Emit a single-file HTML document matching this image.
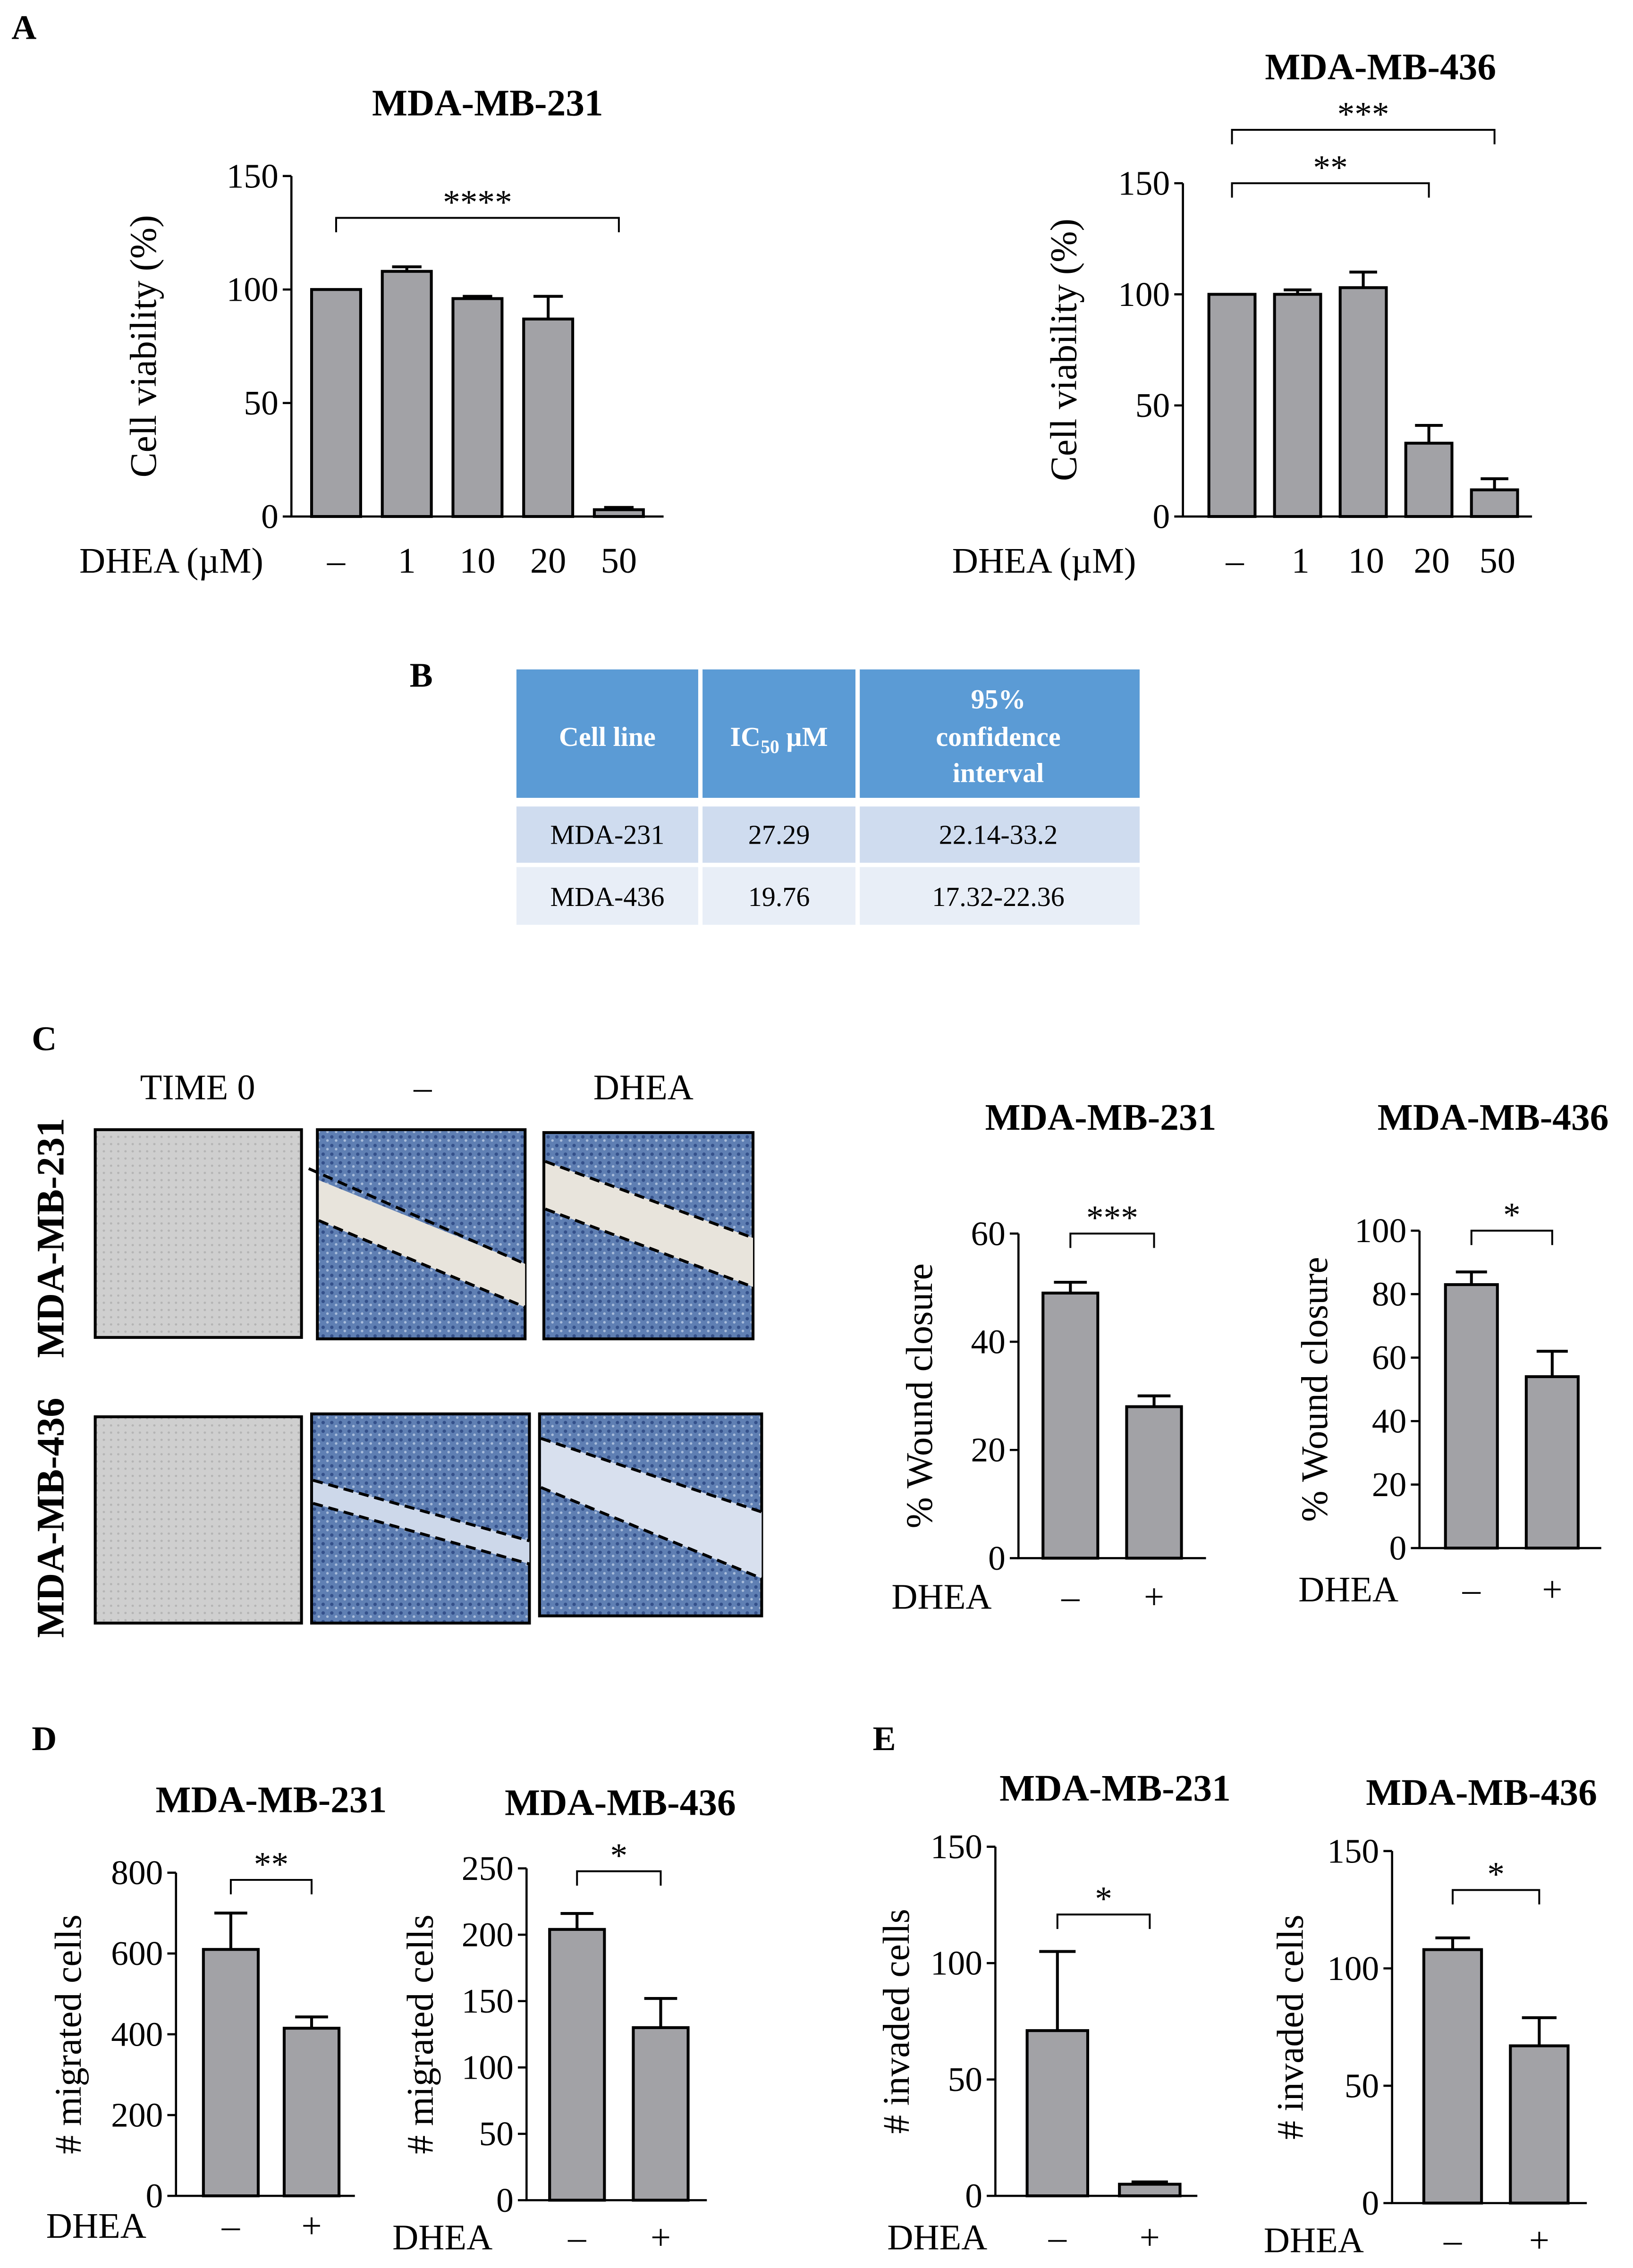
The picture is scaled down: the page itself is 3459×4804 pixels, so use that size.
<!DOCTYPE html>
<html><head><meta charset="utf-8"><style>
html,body{margin:0;padding:0;background:#fff}
svg{display:block}
text{font-family:"Liberation Serif",serif;fill:#000}
</style></head><body>
<svg id="fig" width="3459" height="4804" viewBox="0 0 1132 1572" preserveAspectRatio="none" xmlns="http://www.w3.org/2000/svg">
<defs>
<pattern id="cells" width="6" height="6" patternUnits="userSpaceOnUse"><rect width="6" height="6" fill="#5f7fb3"/><circle cx="2" cy="2" r="1.2" fill="#34508a"/><circle cx="5" cy="4.5" r="0.9" fill="#a9bddb"/></pattern>
<pattern id="gray" width="5" height="5" patternUnits="userSpaceOnUse"><rect width="5" height="5" fill="#cfcfcf"/><circle cx="2" cy="3" r="0.8" fill="#b4b4b4"/></pattern>
</defs>
<g id="static">
<text x="8" y="27" font-size="24" font-weight="bold">A</text>
<text x="284" y="476" font-size="24" font-weight="bold">B</text>
<text x="22" y="728" font-size="24" font-weight="bold">C</text>
<text x="22" y="1213" font-size="24" font-weight="bold">D</text>
<text x="605" y="1213" font-size="24" font-weight="bold">E</text>

<g font-size="19">
<rect x="358" y="464" width="432" height="89" fill="#5b9bd5"/>
<rect x="358" y="559" width="432" height="39" fill="#cfdcef"/>
<rect x="358" y="601" width="432" height="40" fill="#e8eef7"/>
<line x1="485.5" y1="464" x2="485.5" y2="641" stroke="#fff" stroke-width="3"/>
<line x1="594.5" y1="464" x2="594.5" y2="641" stroke="#fff" stroke-width="3"/>
<text x="421" y="517" text-anchor="middle" font-weight="bold" style="fill:#fff">Cell line</text>
<text x="540" y="517" text-anchor="middle" font-weight="bold" style="fill:#fff">IC<tspan font-size="13" dy="5">50</tspan><tspan dy="-5"> µM</tspan></text>
<text x="692" y="491" text-anchor="middle" font-weight="bold" style="fill:#fff">95%</text>
<text x="692" y="517" text-anchor="middle" font-weight="bold" style="fill:#fff">confidence</text>
<text x="692" y="542" text-anchor="middle" font-weight="bold" style="fill:#fff">interval</text>
<text x="421" y="585" text-anchor="middle">MDA-231</text>
<text x="540" y="585" text-anchor="middle">27.29</text>
<text x="692" y="585" text-anchor="middle">22.14-33.2</text>
<text x="421" y="628" text-anchor="middle">MDA-436</text>
<text x="540" y="628" text-anchor="middle">19.76</text>
<text x="692" y="628" text-anchor="middle">17.32-22.36</text>
</g>

<g font-size="25">
<text x="137" y="762" text-anchor="middle">TIME 0</text>
<text x="293" y="762" text-anchor="middle">–</text>
<text x="446" y="762" text-anchor="middle">DHEA</text>
<text transform="translate(44,858) rotate(-90)" text-anchor="middle" font-size="27" font-weight="bold">MDA-MB-231</text>
<text transform="translate(44,1052) rotate(-90)" text-anchor="middle" font-size="27" font-weight="bold">MDA-MB-436</text>
<rect x="66" y="783" width="143" height="144" fill="url(#gray)" stroke="#000" stroke-width="2"/>
<rect x="66" y="982" width="143" height="143" fill="url(#gray)" stroke="#000" stroke-width="2"/>
<rect x="220" y="783" width="144" height="145" fill="url(#cells)" stroke="#000" stroke-width="2"/>
<polygon points="221,818 364,876 364,906 221,846" fill="#e8e4dc"/>
<line x1="214" y1="810" x2="364" y2="876" stroke="#000" stroke-width="2" stroke-dasharray="7,4"/>
<line x1="221" y1="846" x2="364" y2="906" stroke="#000" stroke-width="2" stroke-dasharray="7,4"/>
<rect x="377" y="785" width="145" height="143" fill="url(#cells)" stroke="#000" stroke-width="2"/>
<polygon points="378,805 522,858 522,892 378,838" fill="#e8e4dc"/>
<line x1="378" y1="805" x2="522" y2="858" stroke="#000" stroke-width="2" stroke-dasharray="7,4"/>
<line x1="378" y1="838" x2="522" y2="892" stroke="#000" stroke-width="2" stroke-dasharray="7,4"/>
<rect x="216" y="980" width="151" height="145" fill="url(#cells)" stroke="#000" stroke-width="2"/>
<polygon points="217,1026 367,1068 367,1084 217,1042" fill="#cdd8ea"/>
<line x1="217" y1="1026" x2="367" y2="1068" stroke="#000" stroke-width="2" stroke-dasharray="7,4"/>
<line x1="217" y1="1042" x2="367" y2="1084" stroke="#000" stroke-width="2" stroke-dasharray="7,4"/>
<rect x="374" y="980" width="154" height="140" fill="url(#cells)" stroke="#000" stroke-width="2"/>
<polygon points="375,997 528,1048 528,1094 375,1031" fill="#d8e0ee"/>
<line x1="375" y1="997" x2="528" y2="1048" stroke="#000" stroke-width="2" stroke-dasharray="7,4"/>
<line x1="375" y1="1031" x2="528" y2="1094" stroke="#000" stroke-width="2" stroke-dasharray="7,4"/>
</g>
</g>
<g id="charts"></g>
</svg>
<script>
// Panel A left: MDA-MB-231 viability
const aLeftCategories = ["–","1","10","20","50"];
const aLeftValues = [100,108,96,87,3];
const aLeftErrors = [0,2,1,10,1];
const aLeftTicks = [0,50,100,150];
// Panel A right: MDA-MB-436 viability
const aRightCategories = ["–","1","10","20","50"];
const aRightValues = [100,100,103,33,12];
const aRightErrors = [0,2,7,8,5];
const aRightTicks = [0,50,100,150];
// Panel C wound closure
const cLeftCategories = ["–","+"];
const cLeftValues = [49,28];
const cLeftErrors = [2,2];
const cLeftTicks = [0,20,40,60];
const cRightCategories = ["–","+"];
const cRightValues = [83,54];
const cRightErrors = [4,8];
const cRightTicks = [0,20,40,60,80,100];
// Panel D migration
const dLeftCategories = ["–","+"];
const dLeftValues = [610,415];
const dLeftErrors = [90,28];
const dLeftTicks = [0,200,400,600,800];
const dRightCategories = ["–","+"];
const dRightValues = [204,130];
const dRightErrors = [12,22];
const dRightTicks = [0,50,100,150,200,250];
// Panel E invasion
const eLeftCategories = ["–","+"];
const eLeftValues = [71,5];
const eLeftErrors = [34,1];
const eLeftTicks = [0,50,100,150];
const eRightCategories = ["–","+"];
const eRightValues = [108,67];
const eRightErrors = [5,12];
const eRightTicks = [0,50,100,150];

const NS="http://www.w3.org/2000/svg";
const root=document.getElementById('charts');
function mk(tag,attrs,parent){const e=document.createElementNS(NS,tag);for(const k in attrs)e.setAttribute(k,attrs[k]);parent.appendChild(e);return e;}
function txt(x,y,s,size,anchor,parent,extra){const t=mk('text',Object.assign({x:x,y:y,'font-size':size,'text-anchor':anchor},extra||{}),parent);t.textContent=s;return t;}

function chart(cfg){
  const g=mk('g',{},root);
  
  
  const max=cfg.ticks[cfg.ticks.length-1];
  const yScale=v=>cfg.y0-(v/max)*(cfg.y0-cfg.yTop);
  const xScale=i=>cfg.x0+cfg.pad+cfg.step*i;
  // axes
  const ax=mk('path',{d:`M${cfg.x0},${cfg.yTop} V${cfg.y0} H${cfg.xEnd}`,fill:'none',stroke:'#000','stroke-width':1.5},g);
  
  
  cfg.ticks.forEach(t=>{
    const y=yScale(t);
    mk('line',{x1:cfg.x0-6,y1:y,x2:cfg.x0,y2:y,stroke:'#000','stroke-width':1.5},g);
    const tl=txt(cfg.x0-9,y+8,String(t),24,'end',g);
    
    
  });
  cfg.values.forEach((v,i)=>{
    const cx=xScale(i), y=yScale(v), e=yScale(v+cfg.errors[i]);
    if(cfg.errors[i]>0){
      const el=mk('path',{d:`M${cx},${y} V${e} M${cx-cfg.bw*0.3},${e} H${cx+cfg.bw*0.3}`,stroke:'#000','stroke-width':2,fill:'none'},g);
      
      
    }
    const b=mk('rect',{x:cx-cfg.bw/2,y:y,width:cfg.bw,height:cfg.y0-y,fill:'#a2a2a6',stroke:'#000','stroke-width':2},g);
    
    
    const cl=txt(cx+(cfg.catDx||0),cfg.catY,cfg.cats[i],25,'middle',g);
    
    
  });
  const dl=txt(cfg.dheaX,cfg.catY,cfg.dhea,25,'start',g);
  
  
  const tt=txt(cfg.titleX,cfg.titleY,cfg.title,26,'middle',g,{'font-weight':'bold'});
  
  
  const yl=txt(0,0,cfg.ylabel,26,'middle',g,{transform:`translate(${cfg.ylX},${(cfg.y0+cfg.yTop)/2}) rotate(-90)`});
  
  
  cfg.brackets.forEach(br=>{
    const x1=xScale(br[0]), x2=xScale(br[1]), y=br[2];
    const p=mk('path',{d:`M${x1},${y+10} V${y} H${x2} V${y+10}`,fill:'none',stroke:'#000','stroke-width':1.3},g);
    
    
    const s=txt((x1+x2)/2,y-3,br[3],24,'middle',g);
    
    
  });
}

chart({name:'chart-a-mda231',cats:aLeftCategories,values:aLeftValues,errors:aLeftErrors,ticks:aLeftTicks,
  x0:202,xEnd:460,y0:358,yTop:122,pad:31,step:49,bw:34,catY:397,catDx:0,dheaX:55,dhea:'DHEA (µM)',
  title:'MDA-MB-231',titleX:338,titleY:80,ylabel:'Cell viability (%)',ylX:108,brackets:[[0,4,151,'****']]});
chart({name:'chart-a-mda436',cats:aRightCategories,values:aRightValues,errors:aRightErrors,ticks:aRightTicks,
  x0:820,xEnd:1062,y0:358,yTop:127,pad:34,step:45.5,bw:32,catY:397,catDx:2,dheaX:660,dhea:'DHEA (µM)',
  title:'MDA-MB-436',titleX:957,titleY:55,ylabel:'Cell viability (%)',ylX:746,brackets:[[0,3,127,'**'],[0,4,90,'***']]});
chart({name:'chart-c-mda231',cats:cLeftCategories,values:cLeftValues,errors:cLeftErrors,ticks:cLeftTicks,
  x0:706,xEnd:836,y0:1080,yTop:855,pad:36,step:58,bw:38,catY:1115,dheaX:618,dhea:'DHEA',
  title:'MDA-MB-231',titleX:763,titleY:783,ylabel:'% Wound closure',ylX:646,brackets:[[0,1,855,'***']]});
chart({name:'chart-c-mda436',cats:cRightCategories,values:cRightValues,errors:cRightErrors,ticks:cRightTicks,
  x0:984,xEnd:1110,y0:1073,yTop:853,pad:36,step:56,bw:36,catY:1110,dheaX:900,dhea:'DHEA',
  title:'MDA-MB-436',titleX:1035,titleY:783,ylabel:'% Wound closure',ylX:920,brackets:[[0,1,853,'*']]});
chart({name:'chart-d-mda231',cats:dLeftCategories,values:dLeftValues,errors:dLeftErrors,ticks:dLeftTicks,
  x0:122,xEnd:246,y0:1522,yTop:1298,pad:38,step:56,bw:38,catY:1551,dheaX:32,dhea:'DHEA',
  title:'MDA-MB-231',titleX:188,titleY:1256,ylabel:'# migrated cells',ylX:56,brackets:[[0,1,1303,'**']]});
chart({name:'chart-d-mda436',cats:dRightCategories,values:dRightValues,errors:dRightErrors,ticks:dRightTicks,
  x0:365,xEnd:490,y0:1525,yTop:1295,pad:35,step:58,bw:38,catY:1559,dheaX:272,dhea:'DHEA',
  title:'MDA-MB-436',titleX:430,titleY:1258,ylabel:'# migrated cells',ylX:300,brackets:[[0,1,1297,'*']]});
chart({name:'chart-e-mda231',cats:eLeftCategories,values:eLeftValues,errors:eLeftErrors,ticks:eLeftTicks,
  x0:690,xEnd:830,y0:1522,yTop:1280,pad:43,step:64,bw:42,catY:1559,dheaX:615,dhea:'DHEA',
  title:'MDA-MB-231',titleX:773,titleY:1248,ylabel:'# invaded cells',ylX:630,brackets:[[0,1,1327,'*']]});
chart({name:'chart-e-mda436',cats:eRightCategories,values:eRightValues,errors:eRightErrors,ticks:eRightTicks,
  x0:965,xEnd:1100,y0:1527,yTop:1283,pad:42,step:60,bw:40,catY:1561,dheaX:876,dhea:'DHEA',
  title:'MDA-MB-436',titleX:1027,titleY:1251,ylabel:'# invaded cells',ylX:903,brackets:[[0,1,1310,'*']]});
</script>
</body></html>
